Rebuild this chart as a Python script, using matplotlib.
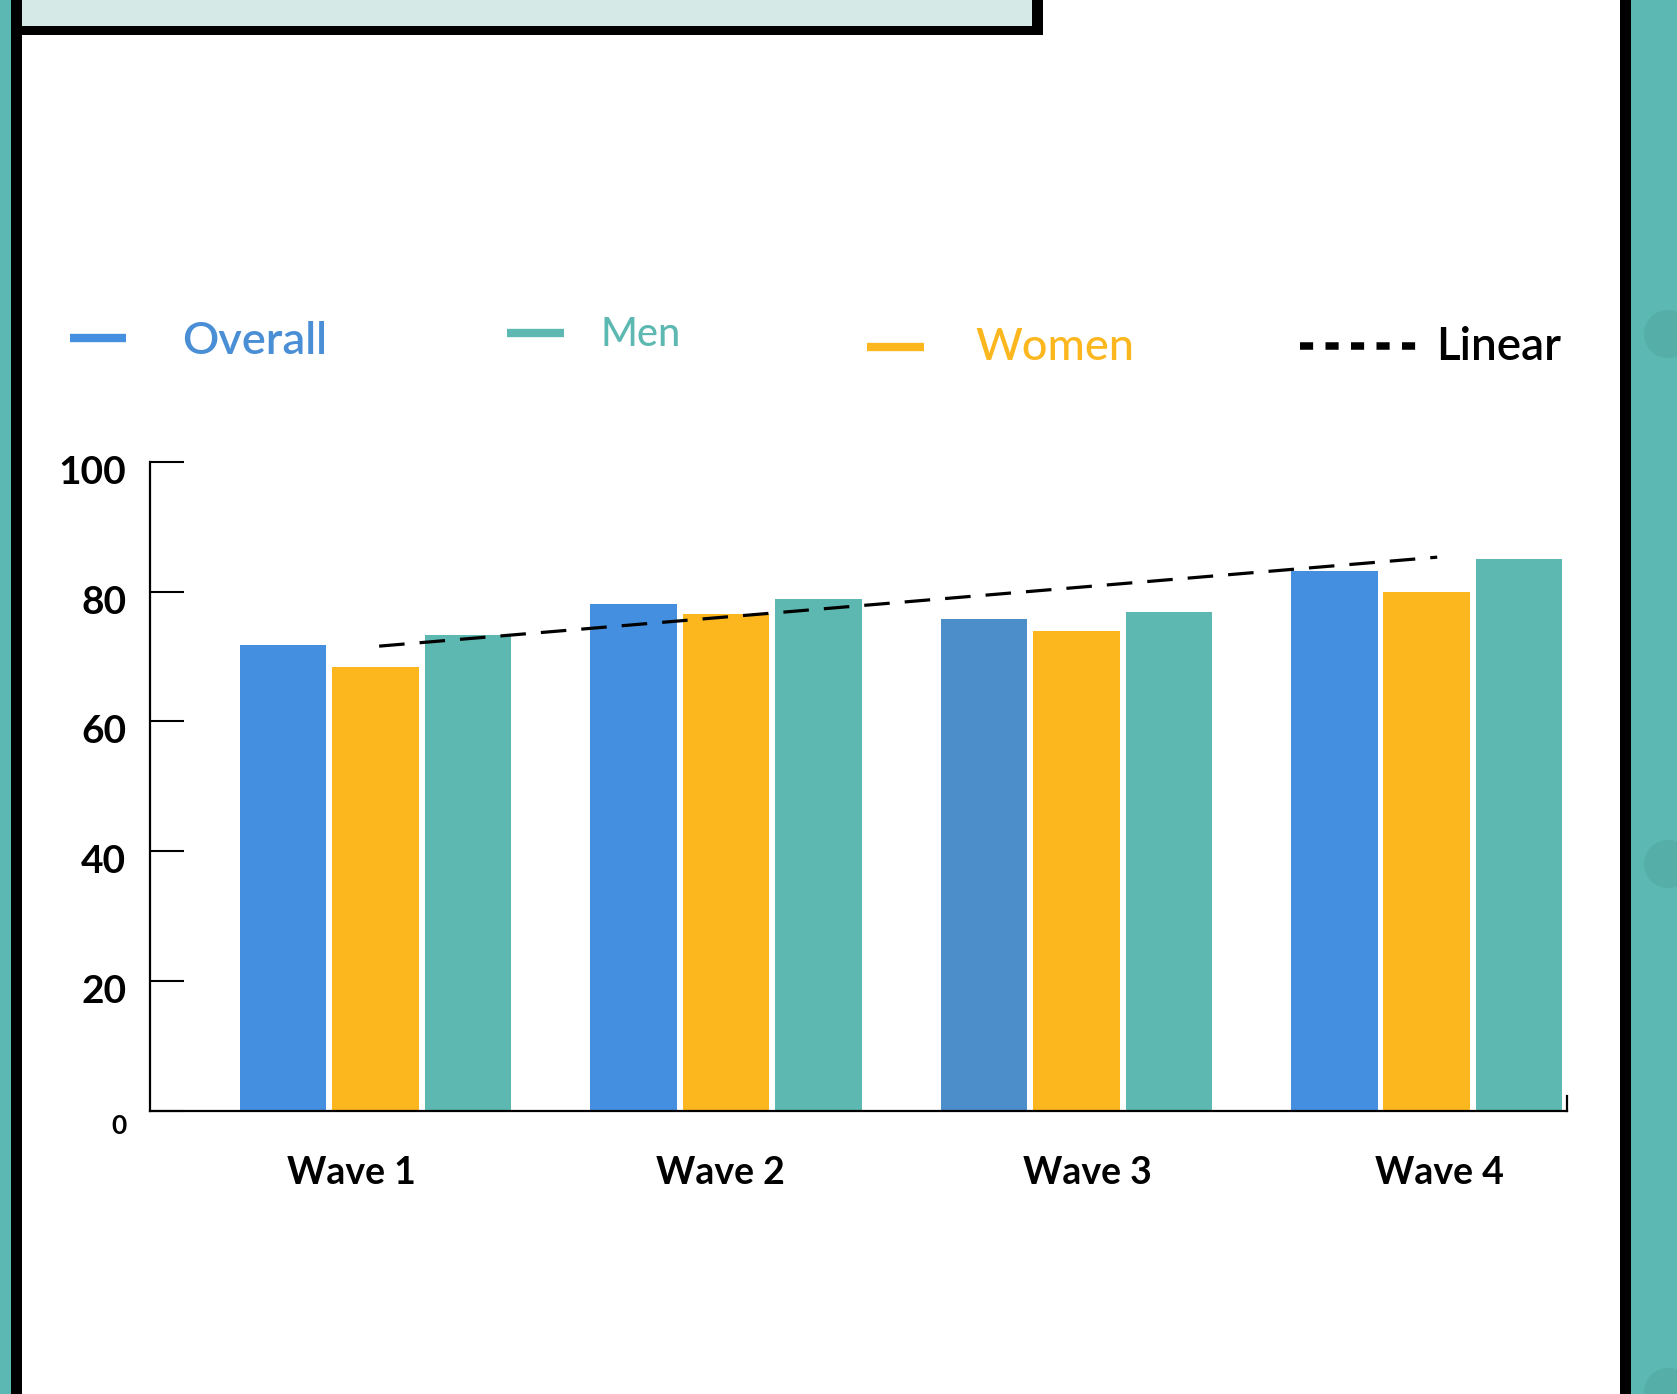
import matplotlib.pyplot as plt
import numpy as np
from matplotlib.patches import Rectangle, Ellipse
from matplotlib.lines import Line2D
from matplotlib.transforms import ScaledTranslation

plt.rcParams["font.family"] = ["Lato", "DejaVu Sans"]

# survey waves, % by group
waves = ["Wave 1", "Wave 2", "Wave 3", "Wave 4"]
overall = [71.7, 78.1, 75.8, 83.2]
women = [68.4, 76.6, 74.0, 79.9]
men = [73.3, 78.9, 76.8, 85.0]
linear_trend = [71.6, 85.3]  # linear trend, start and end
yticks = [0, 20, 40, 60, 80, 100]

BLUE = "#448FDF"
BLUE_W3 = "#4B8ECA"
GOLD = "#FDB71E"
TEAL = "#5CB8B1"

W, H = 1677, 1394
fig = plt.figure(figsize=(W / 100, H / 100), dpi=100)


def box(x0, y0, x1, y1, color, z=0):
    # rectangle in pixels, y measured from the top
    fig.add_artist(Rectangle((x0 / W, 1 - y1 / H), (x1 - x0) / W, (y1 - y0) / H,
                             transform=fig.transFigure, color=color, lw=0, zorder=z))


def dot(cx, cy, r, color):
    fig.add_artist(Ellipse((cx / W, 1 - cy / H), 2 * r / W, 2 * r / H,
                           transform=fig.transFigure, color=color, lw=0, zorder=1))


# page frame
box(0, 0, 11, H, "#5BB8B3")
box(11, 0, 22, H, "black")
box(11, 0, 1043, 35, "black")
box(22, 0, 1032, 26, "#D5E9E6", z=1)
box(1620, 0, 1631, H, "black")
box(1631, 0, W, H, "#5BB8B3")
for cy in (334, 864, 1392):
    dot(1668, cy, 24, "#55AEA8")

ax = fig.add_axes([0.0893, 0.2029, 0.8450, 0.4659])
x = np.arange(len(waves))
bw, step = 0.2473, 0.264
ax.bar(x - step, overall, bw, color=[BLUE, BLUE, BLUE_W3, BLUE], zorder=2)
ax.bar(x, women, bw, color=GOLD, zorder=2)
ax.bar(x + step, men, bw, color=TEAL, zorder=2)
ax.plot([x[0] + 0.01, x[-1] + 0.03], linear_trend, color="black", lw=2.3,
        dashes=(8, 4.7), zorder=3)

ax.set_xlim(-0.6447, 3.400)
ax.set_ylim(0, 100)
ax.spines["top"].set_visible(False)
ax.spines["right"].set_bounds(0, 2.3)
for s in ("left", "bottom", "right"):
    ax.spines[s].set_linewidth(1.6)

ax.set_xticks(x, labels=waves, fontsize=27, fontweight="bold")
ax.tick_params(axis="x", length=0, pad=32)
for dx, lab in zip([-0.24, -0.06, 0.11, 0.13], ax.get_xticklabels()):
    lab.set_transform(lab.get_transform() + ScaledTranslation(dx, 0, fig.dpi_scale_trans))

ax.set_yticks(yticks, labels=[str(t) for t in yticks], fontsize=28, fontweight="bold")
ax.tick_params(axis="y", direction="in", length=24.5, width=1.5, pad=17)
for t, lab in zip(yticks, ax.get_yticklabels()):
    dy = -0.075
    if t == 0:
        lab.set_fontsize(19)
        dy = -0.13
    lab.set_transform(lab.get_transform() + ScaledTranslation(0, dy, fig.dpi_scale_trans))


# legend drawn by hand
def key(x0, x1, y, color, **kw):
    fig.add_artist(Line2D([x0 / W, x1 / W], [1 - y / H, 1 - y / H], transform=fig.transFigure,
                          color=color, solid_capstyle="butt", dash_capstyle="butt", **kw))


def key_text(xl, y, s, color, size, weight):
    fig.text(xl / W, 1 - y / H, s, color=color, fontsize=size, fontweight=weight,
             ha="left", va="center")


key(70, 126, 338, BLUE, lw=6)
key_text(182, 342, "Overall", "#4A8FD6", 32.5, "semibold")
key(507, 564, 333, TEAL, lw=6)
key_text(601, 334, "Men", TEAL, 28.5, "medium")
key(867, 924, 347, GOLD, lw=6)
key_text(975, 348, "Women", GOLD, 32.5, "medium")
key(1300, 1418, 346, "black", lw=5.4, dashes=(1.75, 1.65))
key_text(1436, 347, "Linear", "black", 33, "semibold")

fig.savefig("out.png", dpi=100)
